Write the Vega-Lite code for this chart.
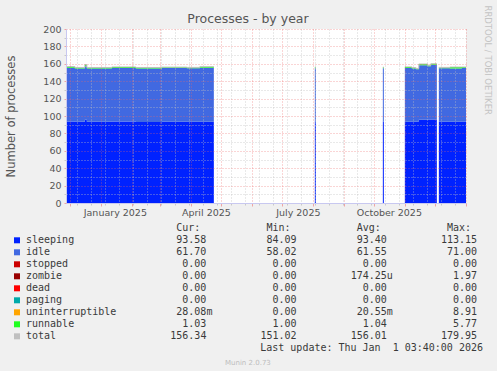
{
  "$schema": "https://vega.github.io/schema/vega-lite/v6.json",
  "width": 400,
  "height": 174,
  "autosize": {"type": "none"},
  "padding": {"left": 66, "top": 29, "right": 31, "bottom": 168},
  "background": "#f0f0f0",
  "view": {"fill": "#ffffff", "stroke": null},
  "title": {"text": "Processes - by year", "font": "DejaVu Sans", "fontSize": 12.5, "fontWeight": "normal", "color": "#555555", "anchor": "middle", "frame": "group", "dx": -18, "dy": 26, "offset": 6},
  "config": {"axis": {"labelFont": "DejaVu Sans", "titleFont": "DejaVu Sans"}},
  "datasets": {
    "procs": [
      {"t": "2024-11-27", "b": "A", "sleeping": 93.7, "idle": 61.8, "runnable": 1.3, "total": 156.9},
      {"t": "2024-12-06", "b": "A", "sleeping": 93.3, "idle": 61.4, "runnable": 1.0, "total": 155.8},
      {"t": "2024-12-16", "b": "A", "sleeping": 95.8, "idle": 61.3, "runnable": 2.0, "total": 159.2},
      {"t": "2024-12-18", "b": "A", "sleeping": 93.4, "idle": 61.3, "runnable": 1.0, "total": 155.8},
      {"t": "2025-01-12", "b": "A", "sleeping": 93.6, "idle": 61.6, "runnable": 1.1, "total": 156.4},
      {"t": "2025-02-05", "b": "A", "sleeping": 93.2, "idle": 61.5, "runnable": 1.0, "total": 155.8},
      {"t": "2025-03-03", "b": "A", "sleeping": 93.4, "idle": 61.7, "runnable": 1.0, "total": 156.2},
      {"t": "2025-03-28", "b": "A", "sleeping": 93.3, "idle": 61.5, "runnable": 1.0, "total": 155.9},
      {"t": "2025-04-10", "b": "A", "sleeping": 93.5, "idle": 61.9, "runnable": 1.2, "total": 156.7},
      {"t": "2025-04-24", "b": "A", "sleeping": 93.5, "idle": 61.9, "runnable": 1.2, "total": 156.7},
      {"t": "2025-08-03", "b": "S1", "sleeping": 93.5, "idle": 61.5, "runnable": 1.0, "total": 156.1},
      {"t": "2025-08-04", "b": "S1", "sleeping": 93.5, "idle": 61.5, "runnable": 1.0, "total": 156.1},
      {"t": "2025-10-10", "b": "S2", "sleeping": 93.4, "idle": 61.6, "runnable": 1.0, "total": 156.1},
      {"t": "2025-10-11", "b": "S2", "sleeping": 93.4, "idle": 61.6, "runnable": 1.0, "total": 156.1},
      {"t": "2025-11-01", "b": "B", "sleeping": 93.5, "idle": 61.7, "runnable": 1.2, "total": 156.5},
      {"t": "2025-11-08", "b": "B", "sleeping": 93.4, "idle": 61.2, "runnable": 1.0, "total": 155.7},
      {"t": "2025-11-12", "b": "B", "sleeping": 93.6, "idle": 60.0, "runnable": 1.0, "total": 154.7},
      {"t": "2025-11-15", "b": "B", "sleeping": 95.8, "idle": 62.6, "runnable": 1.3, "total": 159.8},
      {"t": "2025-11-24", "b": "B", "sleeping": 95.9, "idle": 61.3, "runnable": 1.0, "total": 158.3},
      {"t": "2025-11-27", "b": "B", "sleeping": 96.1, "idle": 62.7, "runnable": 1.2, "total": 160.1},
      {"t": "2025-12-03", "b": "B", "sleeping": 96.1, "idle": 62.7, "runnable": 1.2, "total": 160.1},
      {"t": "2025-12-05", "b": "C", "sleeping": 93.5, "idle": 61.3, "runnable": 1.0, "total": 155.9},
      {"t": "2025-12-16", "b": "C", "sleeping": 93.5, "idle": 61.0, "runnable": 1.7, "total": 156.3},
      {"t": "2025-12-28", "b": "C", "sleeping": 93.6, "idle": 61.6, "runnable": 1.0, "total": 156.3},
      {"t": "2026-01-01T03:40:00Z", "b": "C", "sleeping": 93.58, "idle": 61.7, "runnable": 1.03, "total": 156.34}
    ],
    "table": [
      {"r": 1, "name": "sleeping", "cur": "93.58", "min": "84.09", "avg": "93.40", "max": "113.15", "cu": "", "au": ""},
      {"r": 2, "name": "idle", "cur": "61.70", "min": "58.02", "avg": "61.55", "max": "71.00", "cu": "", "au": ""},
      {"r": 3, "name": "stopped", "cur": "0.00", "min": "0.00", "avg": "0.00", "max": "0.00", "cu": "", "au": ""},
      {"r": 4, "name": "zombie", "cur": "0.00", "min": "0.00", "avg": "174.25", "max": "1.97", "cu": "", "au": "u"},
      {"r": 5, "name": "dead", "cur": "0.00", "min": "0.00", "avg": "0.00", "max": "0.00", "cu": "", "au": ""},
      {"r": 6, "name": "paging", "cur": "0.00", "min": "0.00", "avg": "0.00", "max": "0.00", "cu": "", "au": ""},
      {"r": 7, "name": "uninterruptible", "cur": "28.08", "min": "0.00", "avg": "20.55", "max": "8.91", "cu": "m", "au": "m"},
      {"r": 8, "name": "runnable", "cur": "1.03", "min": "1.00", "avg": "1.04", "max": "5.77", "cu": "", "au": ""},
      {"r": 9, "name": "total", "cur": "156.34", "min": "151.02", "avg": "156.01", "max": "179.95", "cu": "", "au": ""}
    ],
    "heads": [
      {"c": 2, "h": "Cur:"},
      {"c": 3, "h": "Min:"},
      {"c": 4, "h": "Avg:"},
      {"c": 5, "h": "Max:"}
    ]
  },
  "layer": [
    {
      "data": {"name": "procs"},
      "layer": [
        {
          "transform": [
            {"fold": ["sleeping", "idle", "runnable"], "as": ["series", "v"]},
            {"stack": "v", "groupby": ["t", "b"], "as": ["y0", "y1"]}
          ],
          "mark": {"type": "area", "interpolate": "step-after", "clip": true},
          "encoding": {
            "x": {"field": "t", "type": "temporal",
              "scale": {"type": "utc", "domain": [1732678800000, 1767238800000], "nice": false},
              "axis": {"orient": "bottom", "values": [1733616000000, 1734825600000, 1736035200000, 1737244800000, 1738454400000, 1739664000000, 1740873600000, 1742083200000, 1743292800000, 1744502400000, 1745712000000, 1746921600000, 1748131200000, 1749340800000, 1750550400000, 1751760000000, 1752969600000, 1754179200000, 1755388800000, 1756598400000, 1757808000000, 1759017600000, 1760227200000, 1761436800000, 1762646400000, 1763856000000, 1765065600000, 1766275200000],
                "grid": true, "gridColor": "#c0c0c0", "gridDash": [1, 2], "gridOpacity": 0.7, "labels": false, "ticks": true, "tickColor": "#c8c8c8", "tickSize": 2, "domain": false, "title": null, "zindex": 1}},
            "y": {"field": "y1", "type": "quantitative",
              "scale": {"domain": [0, 200], "nice": false, "zero": true},
              "axis": {"orient": "left", "values": [10, 30, 50, 70, 90, 110, 130, 150, 170, 190], "grid": true, "gridColor": "#c0c0c0", "gridDash": [1, 2], "gridOpacity": 0.7, "labels": false, "ticks": true, "tickSize": 2, "tickColor": "#c8c8c8", "domain": false, "title": null, "zindex": 1}},
            "y2": {"field": "y0"},
            "color": {"field": "series", "type": "nominal",
              "scale": {"domain": ["sleeping", "idle", "stopped", "zombie", "dead", "paging", "uninterruptible", "runnable", "total"],
                "range": ["#0022ff", "#4169e1", "#cc0000", "#990000", "#ff0000", "#00aaaa", "#ffa500", "#22ff22", "#c0c0c0"]},
              "legend": null},
            "detail": {"field": "b"}
          }
        },
        {
          "mark": {"type": "line", "interpolate": "step-after", "color": "#c0c0c0", "strokeWidth": 1, "clip": true},
          "encoding": {
            "x": {"field": "t", "type": "temporal",
              "scale": {"type": "utc", "domain": [1732678800000, 1767238800000], "nice": false},
              "axis": {"orient": "bottom", "values": [1733011200000, 1735689600000, 1738368000000, 1740787200000, 1743465600000, 1746057600000, 1748736000000, 1751328000000, 1754006400000, 1756684800000, 1759276800000, 1761955200000, 1764547200000, 1767225600000],
                "grid": true, "gridColor": "#ee6666", "gridDash": [1, 2], "gridOpacity": 0.55, "labels": false, "ticks": true, "tickColor": "#ee6666", "tickOpacity": 0.55, "tickSize": 3, "domain": false, "title": null, "zindex": 1}},
            "y": {"field": "total", "type": "quantitative",
              "scale": {"domain": [0, 200], "nice": false, "zero": true},
              "axis": {"orient": "left", "values": [0, 20, 40, 60, 80, 100, 120, 140, 160, 180, 200], "grid": true, "gridColor": "#ee6666", "gridDash": [1, 2], "gridOpacity": 0.55,
                "labels": true, "labelColor": "#555555", "labelFontSize": 9.5, "labelPadding": 3, "ticks": true, "tickSize": 2, "tickColor": "#ee6666", "tickOpacity": 0.55,
                "domain": true, "domainColor": "#c8c8f0", "title": "Number of processes", "titleFontSize": 11.5, "titleFontWeight": "normal", "titleColor": "#555555",
                "titleX": -55, "titleY": 87, "titleAlign": "center", "titleBaseline": "middle", "titleAngle": -90, "zindex": 1}},
            "detail": {"field": "b"}
          }
        },
        {
          "mark": {"type": "line", "strokeOpacity": 0},
          "encoding": {
            "x": {"field": "t", "type": "temporal",
              "scale": {"type": "utc", "domain": [1732678800000, 1767238800000], "nice": false},
              "axis": {"orient": "bottom", "values": [1736899200000, 1744761600000, 1752710400000, 1760572800000], "format": "%B %Y",
                "grid": false, "ticks": false, "labels": true, "labelFontSize": 9.5, "labelColor": "#555555", "labelPadding": 4, "labelFlush": false, "labelOverlap": false,
                "domain": true, "domainColor": "#c8c8f0", "title": null, "zindex": 1}},
            "y": {"field": "total", "type": "quantitative",
              "scale": {"domain": [0, 200], "nice": false, "zero": true},
              "axis": {"orient": "right", "labels": false, "ticks": false, "grid": false, "domain": false,
                "title": "RRDTOOL / TOBI OETIKER", "titleAngle": 90, "titleFontSize": 8.5, "titleColor": "#c4c4c4", "titleFontWeight": "normal",
                "titleX": 21, "titleY": -24, "titleAlign": "left", "titleBaseline": "middle"}},
            "detail": {"field": "b"}
          }
        }
      ],
      "resolve": {"axis": {"x": "independent", "y": "independent"}}
    },
    {
      "layer": [
        {
          "data": {"name": "table"},
          "mark": {"type": "square", "size": 36, "opacity": 1, "xOffset": -9},
          "encoding": {
            "x": {"datum": 0, "type": "quantitative", "scale": {"domain": [0, 5], "range": [-40, 411], "nice": false, "zero": false}, "axis": null},
            "y": {"field": "r", "type": "quantitative", "scale": {"domain": [0, 11], "range": [199.3, 331.3], "nice": false, "zero": false}, "axis": null},
            "color": {"field": "name", "type": "nominal", "legend": null}
          }
        },
        {
          "data": {"name": "table"},
          "mark": {"type": "text", "align": "left", "baseline": "middle", "font": "DejaVu Sans Mono", "fontSize": 10, "color": "#3a3a3a"},
          "encoding": {
            "x": {"datum": 0, "type": "quantitative"},
            "y": {"field": "r", "type": "quantitative"},
            "text": {"field": "name"}
          }
        },
        {
          "data": {"name": "table"},
          "mark": {"type": "text", "align": "right", "baseline": "middle", "font": "DejaVu Sans Mono", "fontSize": 10, "color": "#3a3a3a"},
          "encoding": {
            "x": {"datum": 2, "type": "quantitative"},
            "y": {"field": "r", "type": "quantitative"},
            "text": {"field": "cur"}
          }
        },
        {
          "data": {"name": "table"},
          "mark": {"type": "text", "align": "left", "baseline": "middle", "font": "DejaVu Sans Mono", "fontSize": 10, "color": "#3a3a3a"},
          "encoding": {
            "x": {"datum": 2, "type": "quantitative"},
            "y": {"field": "r", "type": "quantitative"},
            "text": {"field": "cu"}
          }
        },
        {
          "data": {"name": "table"},
          "mark": {"type": "text", "align": "right", "baseline": "middle", "font": "DejaVu Sans Mono", "fontSize": 10, "color": "#3a3a3a"},
          "encoding": {
            "x": {"datum": 3, "type": "quantitative"},
            "y": {"field": "r", "type": "quantitative"},
            "text": {"field": "min"}
          }
        },
        {
          "data": {"name": "table"},
          "mark": {"type": "text", "align": "right", "baseline": "middle", "font": "DejaVu Sans Mono", "fontSize": 10, "color": "#3a3a3a"},
          "encoding": {
            "x": {"datum": 4, "type": "quantitative"},
            "y": {"field": "r", "type": "quantitative"},
            "text": {"field": "avg"}
          }
        },
        {
          "data": {"name": "table"},
          "mark": {"type": "text", "align": "left", "baseline": "middle", "font": "DejaVu Sans Mono", "fontSize": 10, "color": "#3a3a3a"},
          "encoding": {
            "x": {"datum": 4, "type": "quantitative"},
            "y": {"field": "r", "type": "quantitative"},
            "text": {"field": "au"}
          }
        },
        {
          "data": {"name": "table"},
          "mark": {"type": "text", "align": "right", "baseline": "middle", "font": "DejaVu Sans Mono", "fontSize": 10, "color": "#3a3a3a"},
          "encoding": {
            "x": {"datum": 5, "type": "quantitative"},
            "y": {"field": "r", "type": "quantitative"},
            "text": {"field": "max"}
          }
        },
        {
          "data": {"name": "heads"},
          "mark": {"type": "text", "align": "right", "baseline": "middle", "font": "DejaVu Sans Mono", "fontSize": 10, "color": "#3a3a3a", "dx": -6},
          "encoding": {
            "x": {"field": "c", "type": "quantitative"},
            "y": {"datum": 0, "type": "quantitative"},
            "text": {"field": "h"}
          }
        },
        {
          "data": {"values": [{"txt": "Last update: Thu Jan\u00a0\u00a01 03:40:00 2026"}]},
          "mark": {"type": "text", "align": "right", "baseline": "middle", "font": "DejaVu Sans Mono", "fontSize": 10, "color": "#3a3a3a", "dx": 6},
          "encoding": {
            "x": {"datum": 5, "type": "quantitative"},
            "y": {"datum": 10, "type": "quantitative"},
            "text": {"field": "txt"}
          }
        },
        {
          "data": {"values": [{"txt": "Munin 2.0.73"}]},
          "mark": {"type": "text", "align": "center", "baseline": "middle", "font": "DejaVu Sans", "fontSize": 7, "color": "#bdbdbd"},
          "encoding": {
            "x": {"datum": 2.46, "type": "quantitative"},
            "y": {"datum": 11.25, "type": "quantitative"},
            "text": {"field": "txt"}
          }
        }
      ]
    }
  ],
  "resolve": {"scale": {"x": "independent", "y": "independent"}, "axis": {"x": "independent", "y": "independent"}}
}
